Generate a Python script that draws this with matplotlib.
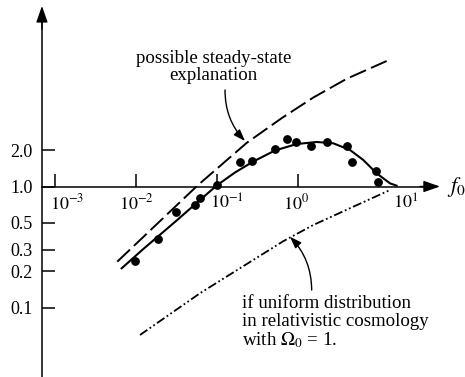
import matplotlib
matplotlib.use('Agg')
import matplotlib.pyplot as plt
import matplotlib.transforms as mtransforms
from matplotlib.ticker import NullLocator

plt.rcParams['font.family'] = ['Liberation Serif', 'DejaVu Serif']
plt.rcParams['mathtext.fontset'] = 'stix'

# observed points
DOT_F = [0.0096, 0.0184, 0.0305, 0.053, 0.061, 0.098, 0.19, 0.27, 0.51,
         0.73, 0.93, 1.42, 2.23, 4.0, 4.6, 9.0, 9.6]
DOT_R = [0.242, 0.368, 0.61, 0.71, 0.81, 1.02, 1.58, 1.63, 2.03,
         2.45, 2.33, 2.17, 2.35, 2.16, 1.60, 1.35, 1.09]

# fitted curve through the points
FIT_F = [0.00656, 0.01213, 0.0313, 0.0608, 0.0977, 0.1644, 0.2768, 0.5127,
         0.9506, 1.679, 2.692, 4.325, 6.31, 9.226, 13.49, 16.29]
FIT_R = [0.2109, 0.3044, 0.5236, 0.7733, 1.019, 1.305, 1.609, 1.984,
         2.244, 2.333, 2.275, 2.004, 1.656, 1.285, 1.062, 1.016]

# steady-state model
SS_F = [0.00579, 0.0564, 0.229, 0.621, 1.524, 3.936, 12.27]
SS_R = [0.2393, 1.016, 2.291, 3.673, 5.433, 7.762, 10.89]

# uniform distribution, Omega_0 = 1
UNI_F = [0.01104, 0.0608, 0.6486, 1.524, 3.936, 13.49]
UNI_R = [0.0593, 0.1312, 0.3532, 0.4808, 0.6427, 0.9354]

X_TICKS = [1e-3, 1e-2, 1e-1, 1e0]
X_LABEL_VALUES = [1e-3, 1e-2, 1e-1, 1e0, 1e1]
X_LABELS = ['$10^{-3}$', '$10^{-2}$', '$10^{-1}$', '$10^{0}$', '$10^{1}$']
X_LABEL_SHIFT = [12, 0, 10, -2, 26]
Y_TICKS = [0.1, 0.2, 0.3, 0.5, 1.0, 2.0]
Y_LABELS = ['0.1', '0.2', '0.3', '0.5', '1.0', '2.0']

Y_AXIS_X = 10 ** -3.167

fig = plt.figure(figsize=(4.65, 3.77), dpi=100)
ax = fig.add_axes([0, 0, 1, 1])
ax.set_xscale('log')
ax.set_yscale('log')
ax.set_xlim(10 ** -3.685, 10 ** 2.056)
ax.set_ylim(10 ** -1.574, 10 ** 1.541)
ax.patch.set_visible(False)

for side in ('top', 'right'):
    ax.spines[side].set_visible(False)
ax.spines['left'].set_position(('data', Y_AXIS_X))
ax.spines['left'].set_bounds(10 ** -1.574, 10 ** 1.40)
ax.spines['bottom'].set_position(('data', 1.0))
ax.spines['bottom'].set_bounds(Y_AXIS_X, 10 ** 1.65)
for side in ('left', 'bottom'):
    ax.spines[side].set_linewidth(1.1)

ax.set_xticks(X_TICKS)
ax.xaxis.set_minor_locator(NullLocator())
ax.tick_params(axis='x', direction='in', length=9.5, width=1.1, labelbottom=False)
ax.set_yticks(Y_TICKS, labels=Y_LABELS)
ax.yaxis.set_minor_locator(NullLocator())
ax.tick_params(axis='y', direction='in', length=9.5, width=1.1, pad=6.5, labelsize=13)

for val, lab, dx in zip(X_LABEL_VALUES, X_LABELS, X_LABEL_SHIFT):
    trans = mtransforms.offset_copy(ax.transData, fig=fig, x=dx, y=-17, units='dots')
    ax.text(val, 1.0, lab, transform=trans, ha='center', va='center', fontsize=13)

# axis arrowheads
head = dict(arrowstyle='-|>,head_length=1.0,head_width=0.35', mutation_scale=10,
            lw=1.0, color='black', shrinkA=0, shrinkB=0)
ax.annotate('', xy=(Y_AXIS_X, 10 ** 1.492), xytext=(Y_AXIS_X, 10 ** 1.30), arrowprops=head)
ax.annotate('', xy=(10 ** 1.747, 1.0), xytext=(10 ** 1.5, 1.0), arrowprops=head)
ax.text(10 ** 1.833, 1.0, '$f_0$', ha='left', va='center', fontsize=16)

ax.plot(FIT_F, FIT_R, color='black', lw=1.5, zorder=3)
ax.plot(DOT_F, DOT_R, 'o', ms=5.3, color='black', zorder=4)
ax.plot(SS_F, SS_R, color='black', lw=1.4, linestyle=(0, (9, 2.8)))
ax.plot(UNI_F, UNI_R, color='black', lw=1.3, linestyle=(0, (5, 1.5, 1, 1.5, 1, 1.5)))

ax.text(0.0893, 9.72, 'possible steady-state\nexplanation', ha='center', va='center',
        multialignment='center', fontsize=13.6, linespacing=1.0)
ax.text(0.2007, 0.0749, 'if uniform distribution\nin relativistic cosmology\nwith $\\Omega_0$ = 1.',
        ha='left', va='center', fontsize=13.6, linespacing=1.05)

pointer = dict(arrowstyle='-|>,head_length=0.7,head_width=0.25', mutation_scale=10,
               lw=1.0, color='black', shrinkA=0, shrinkB=0,
               connectionstyle='arc3,rad=0.2')
ax.annotate('', xy=(0.2188, 2.377), xytext=(0.124, 6.28), arrowprops=pointer)
ax.annotate('', xy=(0.785, 0.3846), xytext=(1.456, 0.1395), arrowprops=pointer)

fig.savefig('out.png', dpi=100)
